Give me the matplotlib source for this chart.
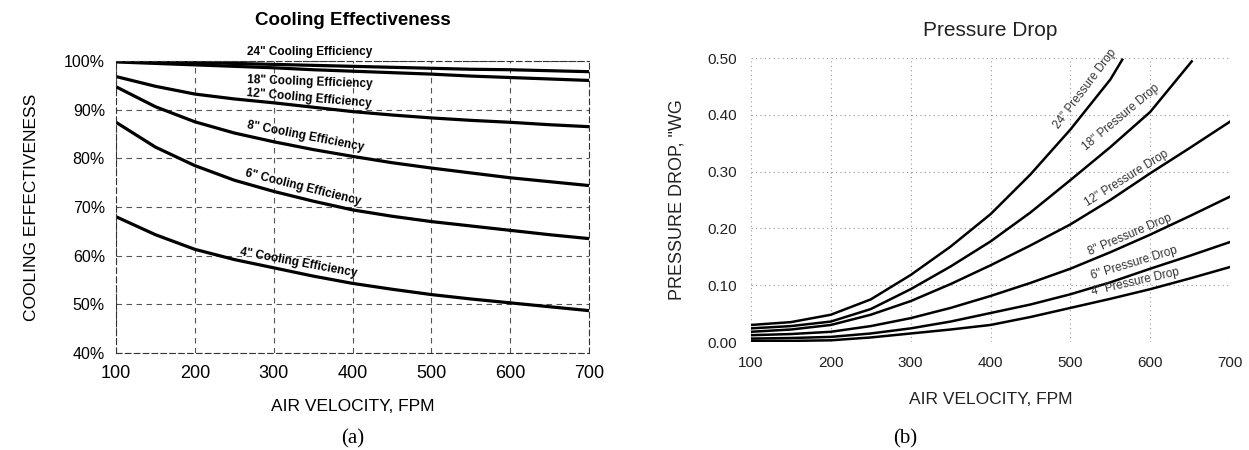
import matplotlib
matplotlib.use("Agg")
import matplotlib.pyplot as plt

plt.rcParams['font.family'] = ['Liberation Sans', 'DejaVu Sans']

# air velocity (FPM)
velocity = [100, 150, 200, 250, 300, 350, 400, 450, 500, 550, 600, 650, 700]

# cooling effectiveness, %
eff_24 = [100.0, 99.9, 99.7, 99.5, 99.3, 99.1, 98.9, 98.7, 98.5, 98.3, 98.2, 98.0, 97.8]
eff_18 = [99.8, 99.5, 99.2, 98.9, 98.6, 98.2, 97.9, 97.6, 97.3, 96.9, 96.6, 96.3, 96.0]
eff_12 = [96.8, 94.8, 93.2, 92.2, 91.4, 90.5, 89.6, 88.9, 88.3, 87.8, 87.4, 86.9, 86.5]
eff_8 = [94.7, 90.6, 87.5, 85.2, 83.4, 81.8, 80.4, 79.1, 78.0, 77.0, 76.0, 75.2, 74.4]
eff_6 = [87.4, 82.3, 78.5, 75.5, 73.2, 71.2, 69.4, 68.1, 67.0, 66.1, 65.2, 64.3, 63.5]
eff_4 = [68.0, 64.3, 61.3, 59.2, 57.5, 55.8, 54.3, 53.1, 52.0, 51.1, 50.3, 49.5, 48.7]
eff_names = ['24" Cooling Efficiency', '18" Cooling Efficiency', '12" Cooling Efficiency',
             '8" Cooling Efficiency', '6" Cooling Efficiency', '4" Cooling Efficiency']

# pressure drop, in. WG
vel_24 = [100, 150, 200, 250, 300, 350, 400, 450, 500, 550, 565]
dp_24 = [0.030, 0.035, 0.048, 0.075, 0.118, 0.168, 0.225, 0.295, 0.374, 0.462, 0.497]
vel_18 = [100, 150, 200, 250, 300, 350, 400, 450, 500, 550, 600, 652]
dp_18 = [0.024, 0.028, 0.036, 0.058, 0.093, 0.133, 0.177, 0.228, 0.285, 0.343, 0.405, 0.494]
dp_12 = [0.018, 0.022, 0.030, 0.048, 0.072, 0.102, 0.135, 0.170, 0.207, 0.250, 0.297, 0.342, 0.388]
dp_8 = [0.012, 0.014, 0.018, 0.028, 0.042, 0.060, 0.081, 0.104, 0.129, 0.158, 0.189, 0.222, 0.256]
dp_6 = [0.006, 0.007, 0.009, 0.015, 0.024, 0.036, 0.051, 0.066, 0.084, 0.105, 0.129, 0.152, 0.176]
dp_4 = [0.002, 0.002, 0.003, 0.008, 0.015, 0.022, 0.030, 0.044, 0.060, 0.076, 0.093, 0.112, 0.132]
dp_names = ['24" Pressure Drop', '18" Pressure Drop', '12" Pressure Drop',
            '8" Pressure Drop', '6" Pressure Drop', '4" Pressure Drop']

fig = plt.figure(figsize=(12.49, 4.5), dpi=100)

# ---- (a) cooling effectiveness
ax1 = fig.add_axes([0.0929, 0.2156, 0.3787, 0.6489])
for e in [eff_24, eff_18, eff_12, eff_8, eff_6, eff_4]:
    ax1.plot(velocity, e, color='black', lw=2.3, solid_capstyle='butt')
ax1.set_xlim(100, 700)
ax1.set_ylim(40, 100)
ax1.set_xticks([100, 200, 300, 400, 500, 600, 700])
ax1.set_yticks([40, 50, 60, 70, 80, 90, 100])
ax1.set_yticklabels(['40%', '50%', '60%', '70%', '80%', '90%', '100%'])
ax1.tick_params(length=0, labelsize=11.5, pad=8)
ax1.tick_params(axis='x', labelsize=13, pad=9)
ax1.grid(True, color='#555555', lw=0.8, linestyle=(0, (5, 4)))
for s in ax1.spines.values():
    s.set_linestyle((0, (5, 3)))
    s.set_linewidth(0.8)
    s.set_color('#333333')
ax1.set_title('Cooling Effectiveness', fontsize=13.5, fontweight='bold', pad=26)
ax1.set_xlabel('AIR VELOCITY, FPM', fontsize=12.5, labelpad=12)
ax1.set_ylabel('COOLING EFFECTIVENESS', fontsize=12.5, labelpad=18)

# label placement for curves in panel (a): x, y, rotation
eff_lab_x = [346, 346, 345, 340, 337, 332]
eff_lab_y = [101.9, 95.7, 92.2, 84.4, 73.9, 58.5]
eff_lab_rot = [0, -2, -5, -11, -14, -10.5]
for name, x, y, r in zip(eff_names, eff_lab_x, eff_lab_y, eff_lab_rot):
    ax1.text(x, y, name, fontsize=8.5, fontweight='bold', ha='center', va='center',
             rotation=r, rotation_mode='anchor', clip_on=False)

fig.text(0.282, 0.015, '(a)', fontsize=15, family='Liberation Serif', ha='center')

# ---- (b) pressure drop
ax2 = fig.add_axes([0.6013, 0.24, 0.3835, 0.6311])
ax2.plot(vel_24, dp_24, color='black', lw=1.8)
ax2.plot(vel_18, dp_18, color='black', lw=1.8)
for d in [dp_12, dp_8, dp_6, dp_4]:
    ax2.plot(velocity, d, color='black', lw=1.8)
ax2.set_xlim(100, 700)
ax2.set_ylim(0, 0.5)
ax2.set_xticks([100, 200, 300, 400, 500, 600, 700])
ax2.set_yticks([0, 0.1, 0.2, 0.3, 0.4, 0.5])
ax2.set_yticklabels(['0.00', '0.10', '0.20', '0.30', '0.40', '0.50'])
ax2.tick_params(length=0, labelsize=11, pad=10, labelcolor='#222222')
ax2.grid(True, color='#999999', lw=0.8, linestyle=(0, (1, 3)))
for s in ax2.spines.values():
    s.set_visible(False)
ax2.set_title('Pressure Drop', fontsize=15, color='#222222', pad=16)
ax2.set_xlabel('AIR VELOCITY, FPM', fontsize=12.5, color='#222222', labelpad=16)
ax2.set_ylabel('PRESSURE DROP, "WG', fontsize=13, color='#222222', labelpad=16)

dp_lab_x = [519, 563, 570, 575, 580, 582]
dp_lab_y = [0.445, 0.396, 0.288, 0.189, 0.138, 0.106]
dp_lab_rot = [53, 40, 32, 23, 17, 13]
for name, x, y, r in zip(dp_names, dp_lab_x, dp_lab_y, dp_lab_rot):
    ax2.text(x, y, name, fontsize=8.5, color='#333333', ha='center', va='center',
             rotation=r, rotation_mode='anchor')

fig.text(0.725, 0.015, '(b)', fontsize=15, family='Liberation Serif', ha='center')

fig.savefig('out.png', dpi=100)
